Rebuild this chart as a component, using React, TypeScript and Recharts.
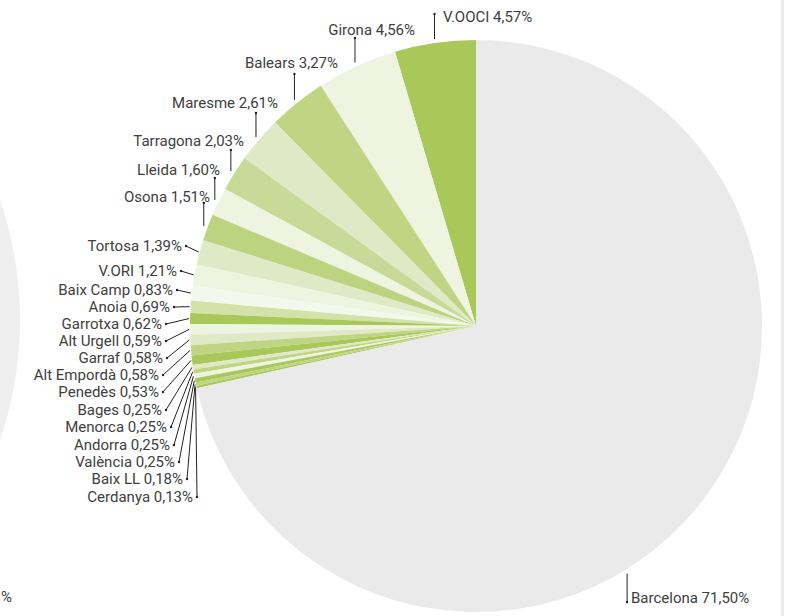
import { PieChart, Pie, Cell } from 'recharts'

// slices in drawing order, counter-clockwise from 12 o'clock
const names = [
  'V.OOCI', 'Girona', 'Balears', 'Maresme', 'Tarragona', 'Lleida', 'Osona', 'Tortosa',
  'V.ORI', 'Baix Camp', 'Anoia', 'Garrotxa', 'Alt Urgell', 'Garraf', 'Alt Empordà',
  'Penedès', 'Bages', 'Menorca', 'Andorra', 'València', 'Baix LL', 'Cerdanya', 'Barcelona',
]
const shares = [
  4.57, 4.56, 3.27, 2.61, 2.03, 1.6, 1.51, 1.39,
  1.21, 0.83, 0.69, 0.62, 0.59, 0.58, 0.58,
  0.53, 0.25, 0.25, 0.25, 0.25, 0.18, 0.13, 71.5,
]
const colors = [
  '#a8c85a', '#eef4e0', '#c0d584', '#dfe9c6', '#c8da98', '#eef4e0', '#bcd380', '#dfe9c6',
  '#eef4e0', '#f4f8ec', '#d2e2a8', '#a8c85a', '#eef4e0', '#dfe9c6', '#c0d584',
  '#a8c85a', '#dfe9c6', '#c0d584', '#eef4e0', '#a8c85a', '#c0d584', '#a8c85a', '#e9eae9',
]

// neighbouring pie, cut off by the left edge
const neighbourShares = [100]

// where each label sits: 'vert' = vertical leader, 'side' = leader to the left
type Spot = { kind: 'vert' | 'side'; x: number; y: number; anchor?: 'start' | 'end'; lineEnd?: number; at?: number }
const labelSpots: Spot[] = [
  { kind: 'vert', x: 443, y: 17, anchor: 'start', lineEnd: 14 },
  { kind: 'vert', x: 415, y: 30, lineEnd: 38 },
  { kind: 'vert', x: 338, y: 63, lineEnd: 74 },
  { kind: 'vert', x: 278, y: 103, lineEnd: 113 },
  { kind: 'vert', x: 244, y: 141, lineEnd: 150 },
  { kind: 'vert', x: 220, y: 170, lineEnd: 178 },
  { kind: 'vert', x: 210, y: 197, lineEnd: 203 },
  { kind: 'side', x: 182, y: 246 },
  { kind: 'side', x: 177, y: 271 },
  { kind: 'side', x: 173, y: 290 },
  { kind: 'side', x: 170, y: 307 },
  { kind: 'side', x: 162, y: 324 },
  { kind: 'side', x: 162, y: 341 },
  { kind: 'side', x: 163, y: 358 },
  { kind: 'side', x: 159, y: 375 },
  { kind: 'side', x: 159, y: 392 },
  { kind: 'side', x: 162, y: 410 },
  { kind: 'side', x: 167, y: 427 },
  { kind: 'side', x: 170, y: 445 },
  { kind: 'side', x: 175, y: 462 },
  { kind: 'side', x: 183, y: 479 },
  { kind: 'side', x: 193, y: 497 },
  { kind: 'vert', x: 631, y: 598, anchor: 'start', lineEnd: 602, at: -58.6 },
]

const data = names.map((name, i) => ({ name, value: shares[i] }))
const neighbour = neighbourShares.map((value) => ({ name: 'resta', value }))

const RAD = Math.PI / 180
const FONT = 'Roboto, sans-serif'
const SIZE = 15
const fmt = (v: number) => v.toFixed(2).replace('.', ',') + '%'

function renderLabel(props: any) {
  const { cx, cy, midAngle, outerRadius, index, name, value } = props
  const spot = labelSpots[index]
  const angle = spot.at ?? midAngle
  const gap = spot.kind === 'vert' ? 4 : 1
  const px = cx + (outerRadius + gap) * Math.cos(-angle * RAD)
  const py = cy + (outerRadius + gap) * Math.sin(-angle * RAD)
  const text = `${name} ${fmt(value)}`

  if (spot.kind === 'vert') {
    const end = spot.lineEnd as number
    return (
      <g key={`l-${index}`}>
        <line x1={px} y1={py} x2={px} y2={end} stroke="#222" strokeWidth={1} />
        <circle cx={px} cy={end} r={1.2} fill="#222" />
        <text x={spot.x} y={spot.y} textAnchor={spot.anchor ?? 'end'} dominantBaseline="central"
          fontSize={SIZE} fill="#404040" fontFamily={FONT}>
          {text}
        </text>
      </g>
    )
  }
  const sx = spot.x + 4
  return (
    <g key={`l-${index}`}>
      <line x1={sx} y1={spot.y} x2={px} y2={py} stroke="#222" strokeWidth={1} />
      <circle cx={sx} cy={spot.y} r={1.2} fill="#222" />
      <text x={spot.x} y={spot.y} textAnchor="end" dominantBaseline="central"
        fontSize={SIZE} fill="#404040" fontFamily={FONT}>
        {text}
      </text>
    </g>
  )
}

export default function App() {
  return (
    <div style={{ position: 'absolute', left: 0, top: 0, width: 789, height: 616, background: '#fff', overflow: 'hidden' }}>
      <PieChart width={789} height={616} margin={{ top: 0, right: 0, bottom: 0, left: 0 }}>
        <Pie
          data={neighbour}
          dataKey="value"
          cx={-350}
          cy={320}
          outerRadius={370}
          startAngle={90}
          endAngle={450}
          stroke="none"
          isAnimationActive={false}
        >
          <Cell fill="#eeefee" />
        </Pie>
        <Pie
          data={data}
          dataKey="value"
          nameKey="name"
          cx={476}
          cy={326}
          outerRadius={286}
          startAngle={90}
          endAngle={450}
          stroke="none"
          label={renderLabel}
          labelLine={false}
          isAnimationActive={false}
        >
          {data.map((d, i) => (
            <Cell key={d.name} fill={colors[i]} />
          ))}
        </Pie>
      </PieChart>
      <div style={{ position: 'absolute', left: 781, top: 0, width: 3, height: 616, background: '#ececec' }} />
      <div style={{ position: 'absolute', left: 1, top: 588, fontFamily: FONT, fontSize: SIZE, color: '#404040', whiteSpace: 'nowrap' }}>
        %
      </div>
    </div>
  )
}
